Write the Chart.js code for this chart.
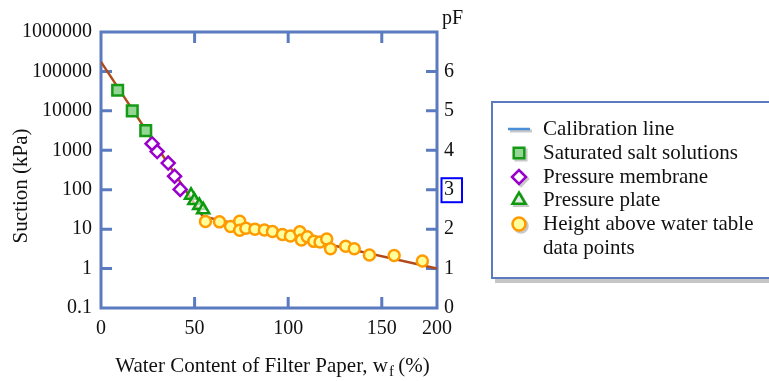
<!DOCTYPE html>
<html><head><meta charset="utf-8">
<script src="https://cdn.jsdelivr.net/npm/chart.js@4.4.1/dist/chart.umd.min.js"></script>
<style>html,body{margin:0;padding:0;background:#fff;}#wrap{width:769px;height:381px;position:relative;}</style>
</head><body><div id="wrap"><canvas id="c" width="769" height="381"></canvas></div>
<script>
// ---- data ----
const xTickValues = [0, 50, 100, 150, 179.5];
const xTickLabels = ['0', '50', '100', '150', '200'];
const yTickValues = [0.1, 1, 10, 100, 1000, 10000, 100000, 1000000];
const yTickLabels = ['0.1', '1', '10', '100', '1000', '10000', '100000', '1000000'];
const pfTickValues = [0, 1, 2, 3, 4, 5, 6];
const pfTickLabels = ['0', '1', '2', '3', '4', '5', '6'];
const calibX = [0, 54.4, 179.5];
const calibY = [175000, 21, 1.0];
const saltX = [8.9, 16.7, 23.9];
const saltY = [33300, 10000, 3160];
const membraneX = [27.3, 30.0, 35.9, 39.3, 42.3];
const membraneY = [1470, 930, 473, 220, 102];
const plateX = [48.1, 49.9, 52.5, 54.6];
const plateY = [72, 53, 40, 31];
const heightX = [55.8, 63.3, 69.2, 74.1, 74.1, 77.4, 82.2, 87.3, 91.6, 96.9, 101.2, 106.2, 107.1, 110.2, 113.7, 117.0, 120.6, 122.6, 130.7, 135.3, 143.4, 156.6, 171.7];
const heightY = [15.6, 15.3, 11.7, 15.8, 9.4, 10.6, 10.0, 9.5, 8.7, 7.3, 6.7, 8.6, 5.3, 6.4, 4.9, 4.7, 5.6, 3.2, 3.7, 3.2, 2.2, 2.15, 1.56];
const legendLabels = ['Calibration line', 'Saturated salt solutions', 'Pressure membrane', 'Pressure plate', 'Height above water table', 'data points'];

const pts = (xs, ys) => xs.map((x, i) => ({x: x, y: ys[i]}));
const SERIF = '"Liberation Serif", "Times New Roman", serif';
const FRAME = '#5b7bc0';

const framePlugin = {
  id: 'frame',
  beforeDatasetsDraw(chart) {
    const {ctx, chartArea: ca, scales} = chart;
    ctx.save();
    ctx.strokeStyle = FRAME;
    ctx.lineWidth = 3;
    ctx.strokeRect(ca.left, ca.top, ca.right - ca.left, ca.bottom - ca.top);
    const tl = 11;
    ctx.beginPath();
    [50, 100, 150].forEach(v => {
      const px = scales.x.getPixelForValue(v);
      ctx.moveTo(px, ca.bottom); ctx.lineTo(px, ca.bottom - tl);
      ctx.moveTo(px, ca.top); ctx.lineTo(px, ca.top + tl);
    });
    [1, 10, 100, 1000, 10000, 100000].forEach(v => {
      const py = scales.y.getPixelForValue(v);
      ctx.moveTo(ca.left, py); ctx.lineTo(ca.left + tl, py);
    });
    [1, 2, 3, 4, 5, 6].forEach(v => {
      const py = scales.y2.getPixelForValue(v);
      ctx.moveTo(ca.right, py); ctx.lineTo(ca.right - tl, py);
    });
    ctx.stroke();
    ctx.restore();
  },
  afterDraw(chart) {
    const {ctx, chartArea: ca, scales} = chart;
    ctx.save();
    ctx.fillStyle = '#111';
    // y title
    ctx.font = '21px ' + SERIF;
    ctx.textAlign = 'center';
    ctx.textBaseline = 'middle';
    ctx.save();
    ctx.translate(21, 186);
    ctx.rotate(-Math.PI / 2);
    ctx.fillText('Suction (kPa)', 0, 0);
    ctx.restore();
    // x title with subscript
    const s1 = 'Water Content of Filter Paper, w', s2 = 'f', s3 = ' (%)';
    ctx.textAlign = 'left';
    ctx.textBaseline = 'alphabetic';
    ctx.font = '21px ' + SERIF;
    const w1 = ctx.measureText(s1).width, w3 = ctx.measureText(s3).width;
    ctx.font = '15px ' + SERIF;
    const w2 = ctx.measureText(s2).width;
    let x0 = 272.5 - (w1 + w2 + w3) / 2;
    const by = 372;
    ctx.font = '21px ' + SERIF;
    ctx.fillText(s1, x0, by);
    ctx.font = '15px ' + SERIF;
    ctx.fillText(s2, x0 + w1 + 1, by + 4);
    ctx.font = '21px ' + SERIF;
    ctx.fillText(s3, x0 + w1 + w2, by);
    // pF label
    ctx.font = '20px ' + SERIF;
    ctx.fillText('pF', 442, 24);
    // box around 3
    const p3 = scales.y2.getPixelForValue(3);
    ctx.strokeStyle = '#0000ff';
    ctx.lineWidth = 2;
    ctx.strokeRect(441.5, p3 - 11.5, 20.5, 24);
    // legend
    ctx.fillStyle = '#c6c6c6';
    ctx.fillRect(495, 107, 290, 176);
    ctx.fillStyle = '#ffffff';
    ctx.fillRect(492, 102, 290, 176);
    ctx.strokeStyle = FRAME;
    ctx.lineWidth = 2;
    ctx.strokeRect(492, 102, 290, 176);
    const rows = [129, 153, 177, 200, 224, 248];
    const mx = 519;
    // line icon
    ctx.strokeStyle = '#c8c8c8'; ctx.lineWidth = 3;
    ctx.beginPath(); ctx.moveTo(510, rows[0] + 2); ctx.lineTo(532, rows[0] + 2); ctx.stroke();
    ctx.strokeStyle = '#4a8fd8'; ctx.lineWidth = 2.5;
    ctx.beginPath(); ctx.moveTo(508, rows[0]); ctx.lineTo(530, rows[0]); ctx.stroke();
    const ds = chart.data.datasets;
    for (let i = 1; i <= 4; i++) {
      const d = ds[i];
      const opts = {pointStyle: d.pointStyle, radius: d.legendRadius, rotation: 0, borderWidth: d.borderWidth};
      ctx.fillStyle = '#c8c8c8'; ctx.strokeStyle = '#c8c8c8'; ctx.lineWidth = d.borderWidth;
      Chart.helpers.drawPoint(ctx, opts, mx + 2, rows[i] + 2);
      ctx.fillStyle = d.backgroundColor; ctx.strokeStyle = d.borderColor; ctx.lineWidth = d.borderWidth;
      Chart.helpers.drawPoint(ctx, opts, mx, rows[i]);
    }
    ctx.fillStyle = '#111';
    ctx.font = '21px ' + SERIF;
    ctx.textBaseline = 'middle';
    legendLabels.forEach((t, i) => ctx.fillText(t, 543, rows[i]));
    ctx.restore();
  }
};

new Chart(document.getElementById('c'), {
  type: 'scatter',
  data: {
    datasets: [
      {label: legendLabels[0], type: 'line', data: pts(calibX, calibY), showLine: true, borderColor: '#b04a18', borderWidth: 2.5, pointRadius: 0, fill: false, tension: 0, order: 5},
      {label: legendLabels[1], data: pts(saltX, saltY), pointStyle: 'rect', pointRadius: 7.5, legendRadius: 7.5, borderWidth: 2.5, borderColor: '#169a16', backgroundColor: '#94d694', order: 1},
      {label: legendLabels[2], data: pts(membraneX, membraneY), pointStyle: 'rectRot', pointRadius: 6.5, legendRadius: 7, borderWidth: 2.5, borderColor: '#9a00cc', backgroundColor: '#ffffff', order: 1},
      {label: legendLabels[3], data: pts(plateX, plateY), pointStyle: 'triangle', pointRadius: 7, legendRadius: 7.5, borderWidth: 2.5, borderColor: '#0b9a0b', backgroundColor: 'rgba(255,255,255,0.6)', order: 1},
      {label: legendLabels[4], data: pts(heightX, heightY), pointStyle: 'circle', pointRadius: 5.5, legendRadius: 6.5, borderWidth: 2.5, borderColor: '#ff9a00', backgroundColor: '#ffff9c', order: 1}
    ]
  },
  options: {
    responsive: false,
    animation: false,
    devicePixelRatio: 1,
    layout: {padding: {left: 0, top: 32, right: 292, bottom: 0}},
    plugins: {legend: {display: false}, tooltip: {enabled: false}},
    scales: {
      x: {
        type: 'linear', min: 0, max: 179.5, position: 'bottom',
        afterBuildTicks: s => { s.ticks = xTickValues.map(v => ({value: v})); },
        afterFit: s => { s.height = 73; },
        ticks: {callback: (v, i) => xTickLabels[i], font: {family: SERIF, size: 20}, color: '#111', padding: 9, maxRotation: 0, autoSkip: false},
        grid: {display: false, drawTicks: false},
        border: {display: false}
      },
      y: {
        type: 'logarithmic', min: 0.1, max: 1000000, position: 'left',
        afterBuildTicks: s => { s.ticks = yTickValues.map(v => ({value: v})); },
        afterFit: s => { s.width = 101; },
        ticks: {callback: (v, i) => yTickLabels[i], font: {family: SERIF, size: 20}, color: '#111', padding: 9, autoSkip: false},
        grid: {display: false, drawTicks: false},
        border: {display: false}
      },
      y2: {
        type: 'linear', min: 0, max: 7, position: 'right',
        afterBuildTicks: s => { s.ticks = pfTickValues.map(v => ({value: v})); },
        afterFit: s => { s.width = 40; },
        ticks: {callback: (v, i) => pfTickLabels[i], font: {family: SERIF, size: 20}, color: '#111', padding: 7, autoSkip: false},
        grid: {display: false, drawTicks: false},
        border: {display: false}
      }
    }
  },
  plugins: [framePlugin]
});
</script></body></html>
